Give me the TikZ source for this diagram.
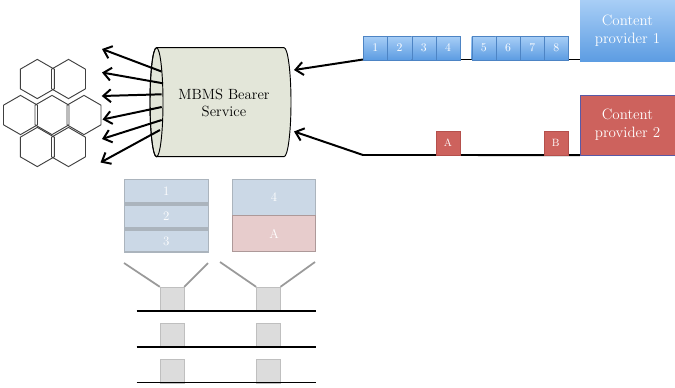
\documentclass[tikz,border=0pt]{standalone}
\usepackage{tikz}
\usetikzlibrary{arrows.meta, shapes.geometric}
\usepackage{xcolor}

\definecolor{cylfill}{HTML}{E3E6D9}
\definecolor{bluetop}{HTML}{A8CEF6}
\definecolor{bluebot}{HTML}{5C9CE2}
\definecolor{blueline}{HTML}{4D84C4}
\definecolor{redfill}{HTML}{CD625D}
\definecolor{redline}{HTML}{B5504C}
\definecolor{stackblue}{HTML}{CBD8E6}
\definecolor{stackred}{HTML}{E7CCCC}
\definecolor{stackline}{HTML}{ABB4BD}
\definecolor{funnelline}{HTML}{9A9A9A}
\definecolor{gapfill}{HTML}{DCDCDC}

\begin{document}
\begin{tikzpicture}[x = 0.03cm, y = -0.03cm,
  hex/.style = {regular polygon, regular polygon sides = 6, shape border rotate = 30, minimum size = 33.5pt, inner sep = 0pt, draw = black!75, line width = 0.8pt},
  flow/.style = {-{Straight Barb[length = 6.5pt, width = 11pt]}, line width = 1.7pt},
  wire/.style = {line width = 1.6pt},
  bluepkt/.style = {draw = blueline, top color = bluetop, bottom color = bluebot, minimum width = 20.6pt, minimum height = 20.4pt, inner sep = 0pt, text = white, font = \fontsize{10}{12}\selectfont},
  redpkt/.style = {draw = redline, fill = redfill, minimum width = 20.4pt, minimum height = 20.4pt, inner sep = 0pt, text = white, font = \fontsize{9}{11}\selectfont},
  provider/.style = {minimum width = 81pt, inner sep = 0pt, align = center, text = white, font = \fontsize{12.8}{15.6}\selectfont},
  slot/.style = {draw = stackline, line width = 1pt, fill = stackblue, minimum width = 71.5pt, inner sep = 0pt, text = white, font = \fontsize{11}{13}\selectfont},
  gapbox/.style = {draw = black!25, fill = gapfill, minimum size = 20.4pt, inner sep = 0pt},
  funnel/.style = {draw = funnelline, line width = 1.5pt}
]
\useasboundingbox (0,0) rectangle (675,387);

\foreach \n/\x/\y in {1/37.3/79, 2/68.5/79, 3/20.5/115, 4/52/115, 5/84/115, 6/37.3/147, 7/68.5/147}
  \node[hex] (cell_\n) at (\x,\y) {};

\filldraw[fill = cylfill, draw = black, line width = 0.8pt] (156.5,47.7) -- (284,47.7) arc(-90:90:7 and 54.5) -- (156.5,156.7) arc(90:270:6.5 and 54.5) -- cycle;
\draw[line width = 0.8pt] (156.5,102.2) ellipse (6.5 and 54.5);
\node[align = center, font = \fontsize{12.6}{14.5}\selectfont] (mbms) at (224,103) {MBMS Bearer\\Service};

\coordinate (out_1) at (161.5,71.5);
\coordinate (out_2) at (163,83.3);
\coordinate (out_3) at (161.7,94.3);
\coordinate (out_4) at (161.7,107);
\coordinate (out_5) at (161.7,120);
\coordinate (out_6) at (160,130);

\coordinate (cast_1) at (102,49);
\coordinate (cast_2) at (102,72.5);
\coordinate (cast_3) at (101.7,96);
\coordinate (cast_4) at (102.5,119.5);
\coordinate (cast_5) at (102,139);
\coordinate (cast_6) at (100.5,162.5);

\foreach \n in {1,...,6}
  \draw[flow] (out_\n) -- (cast_\n);

\node[provider, minimum height = 52.7pt, top color = bluetop, bottom color = bluebot] (prov_1) at (627.5,31) {Content\\provider 1};
\node[provider, minimum height = 51pt, fill = redfill, draw = blue!30!gray, line width = 0.4pt] (prov_2) at (627.5,125) {Content\\provider 2};

\coordinate (line_1) at (363,59.5);
\coordinate (line_2) at (363,155);
\coordinate (in_1) at (294,70);
\coordinate (in_2) at (294,131.5);

\draw[wire] (line_1) -- (prov_1.west |- line_1);
\draw[wire] (line_2) -- (prov_2.south west);
\draw[flow] (line_1) -- (in_1);
\draw[flow] (line_2) -- (in_2);

\foreach \n/\x in {1/375.4, 2/399.6, 3/423.8, 4/448, 5/483.8, 6/508, 7/532.2, 8/556.4}
  \node[bluepkt] (pkt_\n) at (\x,48) {\n};

\node[redpkt] (pkt_a) at (448,143) {A};
\node[redpkt] (pkt_b) at (555.8,143) {B};

\node[slot, minimum height = 20pt] (slot_1) at (166.2,191.3) {1};
\node[slot, minimum height = 19.6pt] (slot_2) at (166.2,216.5) {2};
\node[slot, minimum height = 18.7pt] (slot_3) at (166.2,241) {3};
\node[slot, minimum height = 30.6pt] (slot_4) at (274,197.5) {4};
\node[slot, minimum height = 30.6pt, fill = stackred, draw = stackred!75!black] (slot_a) at (274,233.5) {A};

\node[gapbox] (gap_1) at (172,299) {};
\node[gapbox] (gap_2) at (268.3,299) {};
\node[gapbox] (gap_3) at (172,335) {};
\node[gapbox] (gap_4) at (268.3,335) {};
\node[gapbox] (gap_5) at (172,370.8) {};
\node[gapbox] (gap_6) at (268.3,370.8) {};

\coordinate (fun_1l) at (124,263);
\coordinate (fun_1r) at (208,263);
\coordinate (fun_2l) at (220,262);
\coordinate (fun_2r) at (315,262);

\draw[funnel] (fun_1l) -- (gap_1.north west);
\draw[funnel] (fun_1r) -- (gap_1.north east);
\draw[funnel] (fun_2l) -- (gap_2.north west);
\draw[funnel] (fun_2r) -- (gap_2.north east);

\coordinate (track_1) at (136.7,311);
\coordinate (track_1e) at (316,311);
\coordinate (track_2) at (136.7,346.7);
\coordinate (track_2e) at (316,346.7);
\coordinate (track_3) at (136.7,382.5);
\coordinate (track_3e) at (316,382.5);

\draw[wire] (track_1) -- (track_1e);
\draw[wire] (track_2) -- (track_2e);
\draw[wire] (track_3) -- (track_3e);
\end{tikzpicture}
\end{document}
